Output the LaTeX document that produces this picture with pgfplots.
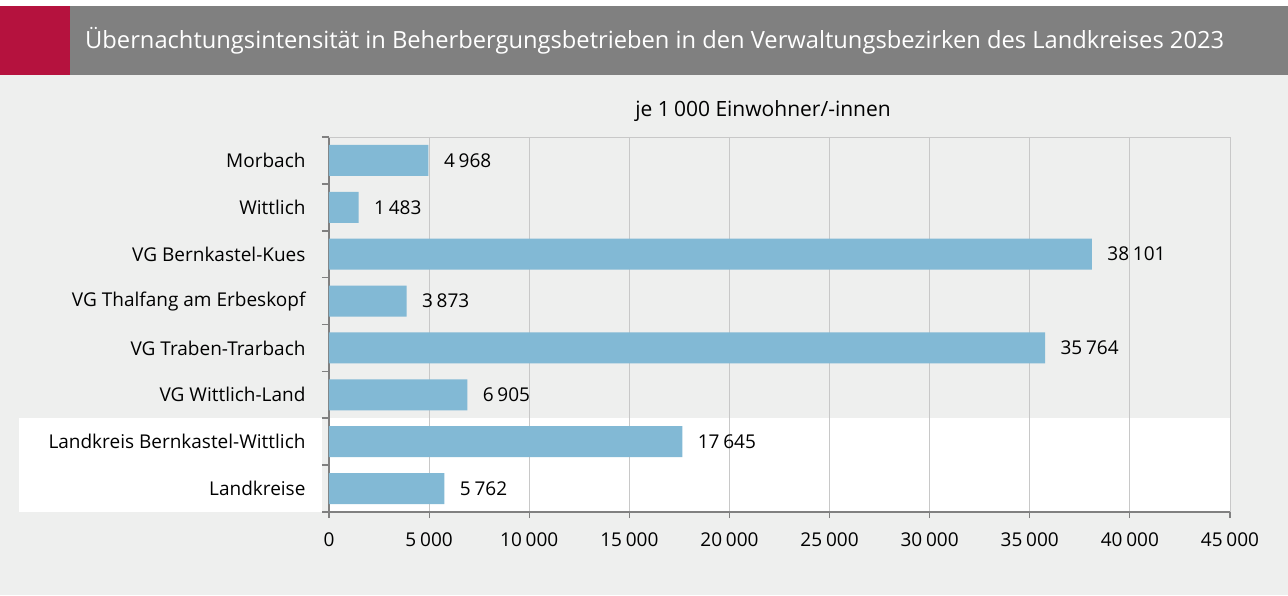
\documentclass[border=0pt]{standalone}
\usepackage{fontspec}
\setmainfont{Open Sans}
\usepackage{pgfplots}
\pgfplotsset{compat=1.18}
\definecolor{bgc}{RGB}{238,239,238}
\definecolor{titlegray}{RGB}{128,128,128}
\definecolor{titlered}{RGB}{181,18,62}
\definecolor{barc}{RGB}{130,185,213}
\definecolor{gridc}{RGB}{200,200,200}
\definecolor{axisc}{RGB}{128,128,128}
\newcommand{\tsep}{\hspace{0.2em}}
\begin{document}
\begin{tikzpicture}
% frame: page is 1288pt x 595pt
\fill[white] (0pt,0pt) rectangle (1288pt,595pt);
\fill[bgc] (0pt,0pt) rectangle (1288pt,520pt);
\fill[titlegray] (0pt,520pt) rectangle (1288pt,589pt);
\fill[titlered] (0pt,520pt) rectangle (70pt,589pt);
\node[anchor=west, text=white, inner sep=0pt, font=\fontsize{23.7}{28}\selectfont]
  at (85pt,554.5pt) {Übernachtungsintensität in Beherbergungsbetrieben in den Verwaltungsbezirken des Landkreises 2023};
% highlight band for the last two rows
\fill[white] (19pt,83pt) rectangle (322pt,177pt);
\fill[white] (329pt,83pt) rectangle (1230pt,177pt);
\node[font=\fontsize{21}{25}\selectfont] at (763pt,484pt) {je 1\tsep000 Einwohner/-innen};

\begin{axis}[
  at={(329pt,83pt)}, anchor=south west,
  scale only axis, width=901pt, height=375pt,
  xbar, bar width=31pt, clip=false,
  xmin=0, xmax=45000, ymin=-0.5, ymax=7.5, y dir=reverse,
  xtick={0,5000,...,45000}, scaled x ticks=false,
  ytick={0,...,7},
  yticklabels={Morbach, Wittlich, VG Bernkastel-Kues, VG Thalfang am Erbeskopf,
    VG Traben-Trarbach, VG Wittlich-Land, Landkreis Bernkastel-Wittlich, Landkreise},
  minor ytick={-0.5,0.5,...,7.5},
  xmajorgrids, grid style={gridc, line width=1pt},
  axis x line*=bottom, axis y line*=left,
  axis line style={axisc, line width=1.6pt},
  tick align=outside, major tick length=6pt, minor tick length=7pt,
  major y tick style={draw=none},
  minor y tick style={axisc, line width=1.6pt},
  major x tick style={axisc, line width=1.2pt},
  tick label style={font=\fontsize{19}{22}\selectfont},
  yticklabel style={xshift=-14pt},
  xticklabel style={yshift=-11pt},
  /pgf/number format/1000 sep={\tsep},
  /pgf/number format/assume math mode=true,
  nodes near coords, point meta=x,
  nodes near coords style={font=\fontsize{19}{22}\selectfont, anchor=west, xshift=12pt},
]
\addplot[fill=barc, draw=none] coordinates {
  (4968,0) (1483,1) (38101,2) (3873,3) (35764,4) (6905,5) (17645,6) (5762,7)};
\draw[gridc, line width=1pt] (axis cs:0,-0.5) -- (axis cs:45000,-0.5);
\end{axis}
\end{tikzpicture}
\end{document}
